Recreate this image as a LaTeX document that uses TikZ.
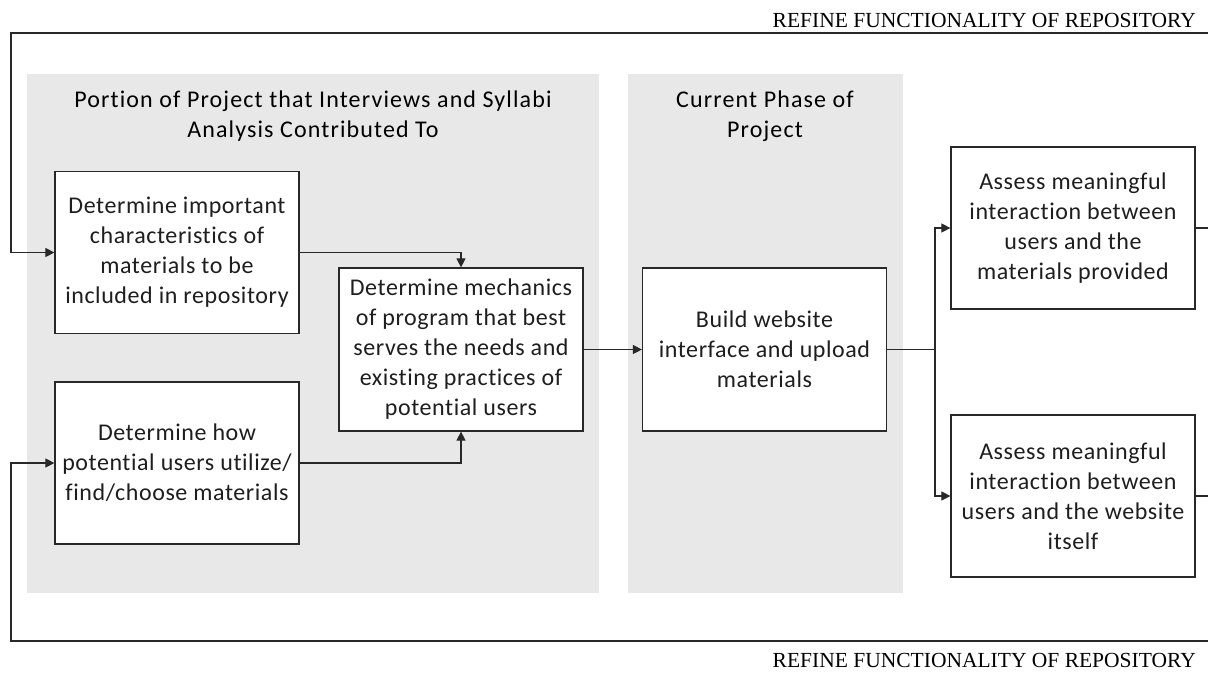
\documentclass[tikz,border=0pt]{standalone}
\usepackage{fontspec}
\setmainfont{Carlito}[Ligatures=NoCommon]
\newfontfamily\titlefont{Carlito}[LetterSpace=4.7, Ligatures=NoCommon]
\newfontfamily\boxfont{Carlito}[LetterSpace=2.4, Ligatures=NoCommon]
\newfontfamily\capsfont{Liberation Serif}
\usetikzlibrary{arrows.meta}
\definecolor{panelgray}{RGB}{232,232,232}
\definecolor{inkgray}{RGB}{40,40,40}
\definecolor{textgray}{RGB}{30,30,30}

\begin{document}
\begin{tikzpicture}[x=1pt,y=-1pt,
  stepbox/.style={draw=inkgray, line width=1.2pt, fill=white, inner sep=0pt,
    minimum width=244pt, minimum height=162pt, align=center, text=textgray,
    font=\boxfont\fontsize{24}{30}\selectfont},
  paneltitle/.style={align=center, font=\titlefont\fontsize{24}{30}\selectfont, inner sep=0pt},
  looplabel/.style={font=\capsfont\fontsize{21.5}{24}\selectfont, inner sep=0pt},
  link/.style={draw=inkgray, line width=1.1pt},
  arr/.style={link, -{Triangle[length=9pt,width=9pt]}}]
\useasboundingbox (0,0) rectangle (1208,673);

% background panels
\fill[panelgray] (27,74) rectangle (599,593);
\fill[panelgray] (628,74) rectangle (903,593);

\node[paneltitle] (t1) at (313,116) {Portion of Project that Interviews and Syllabi\\Analysis Contributed To};
\node[paneltitle] (t2) at (765,116) {Current Phase of\\Project};

% process steps
\node[stepbox] (b1) at (177,252.5) {Determine important\\characteristics of\\materials to be\\included in repository};
\node[stepbox] (b2) at (177,463) {Determine how\\potential users utilize/\\find/choose materials};
\node[stepbox, minimum height=163pt] (b3) at (461,349.5) {Determine mechanics\\of program that best\\serves the needs and\\existing practices of\\potential users};
\node[stepbox, minimum height=163pt] (b4) at (764.5,349.5) {Build website\\interface and upload\\materials};
\node[stepbox] (b5) at (1073,228) {Assess meaningful\\interaction between\\users and the\\materials provided};
\node[stepbox] (b6) at (1073,496) {Assess meaningful\\interaction between\\users and the website\\itself};

% feedback loop labels
\node[looplabel, anchor=base east] (lt) at (1196,27) {REFINE FUNCTIONALITY OF REPOSITORY};
\node[looplabel, anchor=base east] (lb) at (1196,667) {REFINE FUNCTIONALITY OF REPOSITORY};

% loop corners
\coordinate (topR) at (1208,33);
\coordinate (topL) at (11,33);
\coordinate (botR) at (1208,641);
\coordinate (botL) at (11,641);
\coordinate (rEdge) at (1208,0);
\coordinate (split) at (935,349.5);

% connectors
\draw[arr] (b1.east) -| (b3.north);
\draw[arr] (b2.east) -| (b3.south);
\draw[arr] (b3.east) -- (b4.west);
\draw[link] (b4.east) -- (split);
\draw[arr] (split) |- (b5.west);
\draw[arr] (split) |- (b6.west);
\draw[link] (b5.east) -- (b5.east -| rEdge);
\draw[link] (b6.east) -- (b6.east -| rEdge);
\draw[arr] (topR) -- (topL) |- (b1.west);
\draw[arr] (botR) -- (botL) |- (b2.west);
\end{tikzpicture}
\end{document}
